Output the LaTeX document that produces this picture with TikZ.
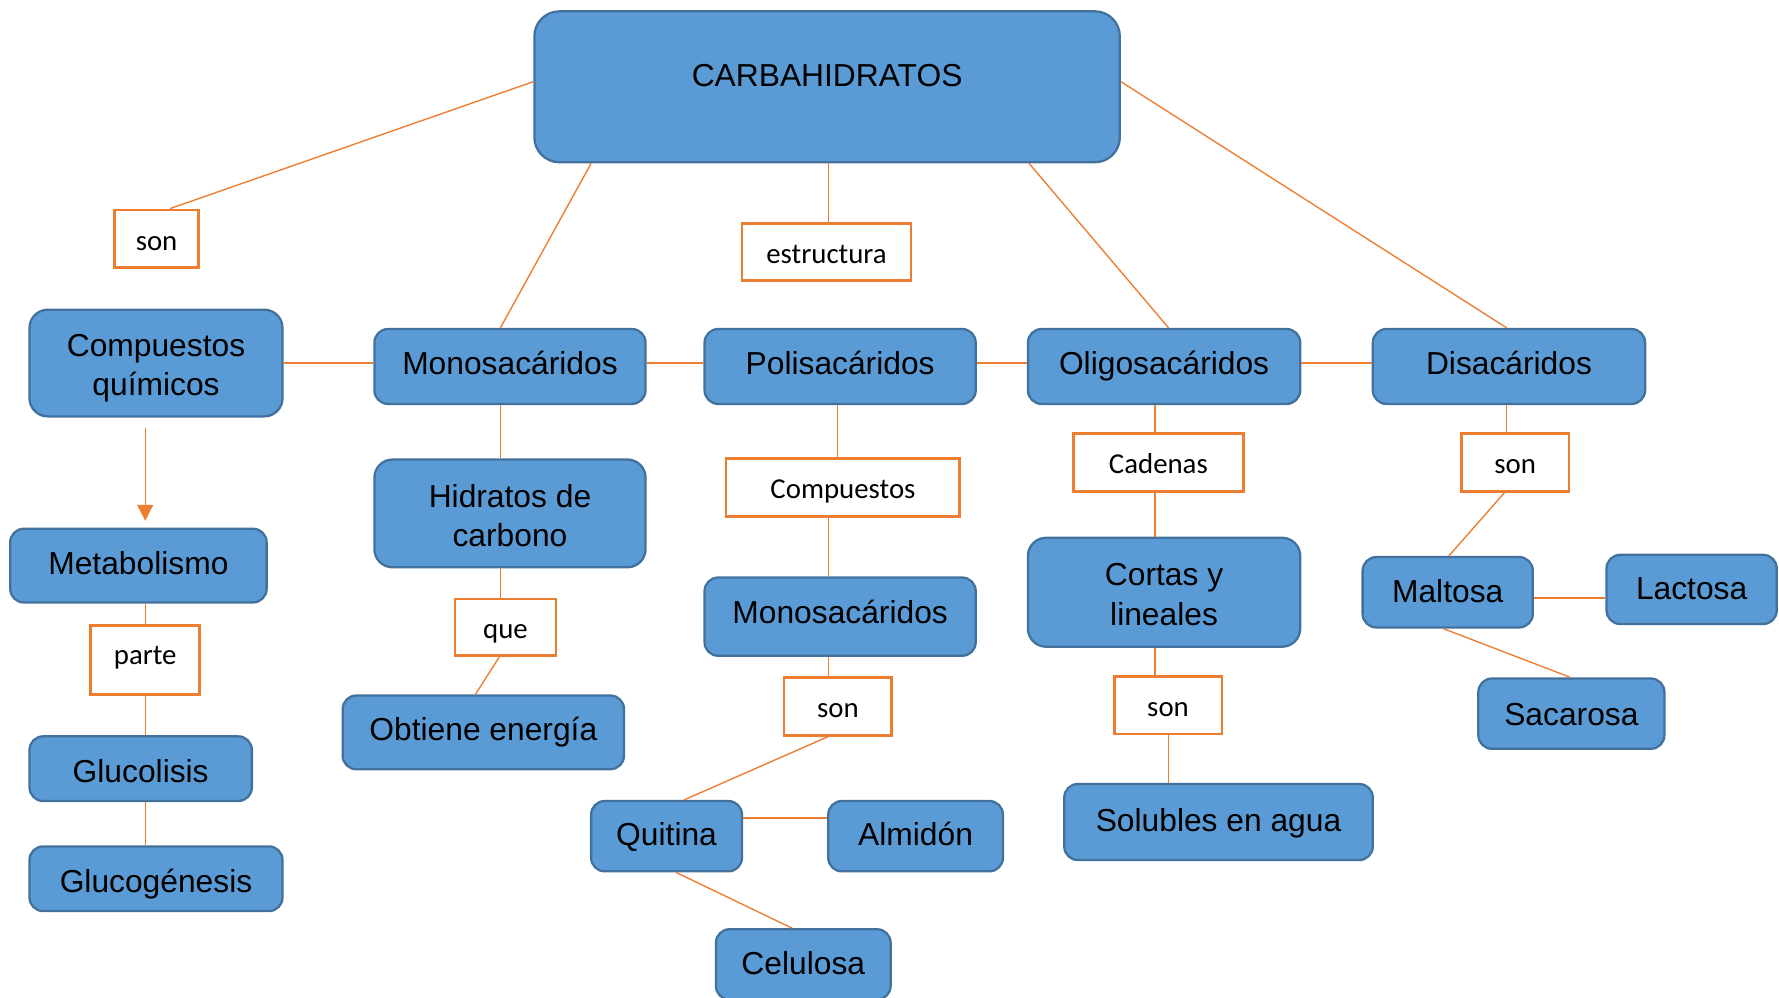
\documentclass[tikz,border=0pt]{standalone}
\usepackage{fontspec}
\setmainfont{Liberation Sans}
\newfontfamily\lblfont{Carlito}
\usetikzlibrary{arrows.meta}
\definecolor{bfill}{HTML}{5B9BD5}
\definecolor{bline}{HTML}{41719C}
\definecolor{orng}{HTML}{ED7D31}
\begin{document}
\begin{tikzpicture}[x=0.5pt,y=-0.5pt,
  bbox/.style={draw=bline, fill=bfill, line width=1pt, rounded corners=6pt, inner sep=0pt, align=center,
    font=\fontsize{14}{17.5}\selectfont, text=black, text height=10.5pt, text depth=3.5pt},
  bbox2/.style={draw=bline, fill=bfill, line width=1pt, rounded corners=8pt, inner sep=0pt},
  mlab/.style={font=\fontsize{14}{17.5}\selectfont, text=black, align=center},
  lbox/.style={draw=orng, fill=white, line width=1.2pt, inner sep=0pt, align=center,
    font=\lblfont\fontsize{12.7}{15}\selectfont, text=black, text height=13pt, text depth=3pt},
  conn/.style={draw=orng, line width=0.6pt}]
\useasboundingbox (0,0) rectangle (1568,879);
\clip (0,0) rectangle (1568,879);
% boxes
\node[bbox2, rounded corners=11pt, minimum width=258pt, minimum height=66.5pt,
  label={[mlab, yshift=4.75pt]center:CARBAHIDRATOS}] (carb) at (729,76.5) {};
\node[lbox, minimum width=37pt, minimum height=25.5pt] (son1) at (138,210.5) {son};
\node[lbox, minimum width=74.5pt, minimum height=25pt] (estr) at (728.5,222) {estructura};
\node[bbox2, minimum width=111.5pt, minimum height=47pt,
  label={[mlab, yshift=-2.25pt]center:Compuestos\\químicos}] (compq) at (137.5,320) {};
\node[bbox, minimum width=119.5pt, minimum height=33pt] (mono1) at (449.5,323) {Monosacáridos};
\node[bbox, minimum width=119.5pt, minimum height=33pt] (poli) at (740.5,323) {Polisacáridos};
\node[bbox, minimum width=120pt, minimum height=33pt] (oligo) at (1026,323) {Oligosacáridos};
\node[bbox, minimum width=120pt, minimum height=33pt] (disac) at (1330,323) {Disacáridos};
\node[bbox, text height=11.5pt, minimum width=113pt, minimum height=32.5pt] (metab) at (122,498.5) {Metabolismo};
\node[lbox, text height=7pt, minimum width=48pt, minimum height=30.5pt] (parte) at (128,581.5) {parte};
\node[bbox, text height=15.5pt, minimum width=98pt, minimum height=28.5pt] (glucol) at (124,677.5) {Glucolisis};
\node[bbox, text height=15.5pt, minimum width=111.5pt, minimum height=28.5pt] (glucog) at (137.5,774.5) {Glucogénesis};
\node[bbox2, minimum width=119.5pt, minimum height=47.5pt,
  label={[mlab, yshift=-1pt]center:Hidratos de\\carbono}] (hidr) at (449.5,452.5) {};
\node[lbox, minimum width=44.5pt, minimum height=25pt] (que) at (445.5,553) {que};
\node[bbox, minimum width=124pt, minimum height=32.5pt] (obt) at (426,645.5) {Obtiene energía};
\node[lbox, minimum width=103pt, minimum height=25.5pt] (compl) at (743,429.5) {Compuestos};
\node[bbox, text height=9.5pt, minimum width=119.5pt, minimum height=34.5pt] (mono2) at (740.5,543.5) {Monosacáridos};
\node[lbox, minimum width=47.5pt, minimum height=25.5pt] (son2) at (738.5,622.5) {son};
\node[bbox, text height=11.5pt, minimum width=66.5pt, minimum height=31pt] (quit) at (587.5,737) {Quitina};
\node[bbox, text height=11.5pt, minimum width=77pt, minimum height=31pt] (almid) at (807,737) {Almidón};
\node[bbox, text height=12.5pt, minimum width=77pt, minimum height=31pt] (celul) at (708,850) {Celulosa};
\node[lbox, minimum width=75pt, minimum height=25.5pt] (cad) at (1021,407.5) {Cadenas};
\node[bbox2, minimum width=120pt, minimum height=48pt,
  label={[mlab, yshift=-1pt]center:Cortas y\\lineales}] (cortas) at (1026,522) {};
\node[lbox, minimum width=47.5pt, minimum height=25.5pt] (son3) at (1029.5,621.5) {son};
\node[bbox, text height=11.5pt, minimum width=136pt, minimum height=33.5pt] (solub) at (1074,724.5) {Solubles en agua};
\node[lbox, minimum width=47.5pt, minimum height=25.5pt] (son4) at (1335.5,407.5) {son};
\node[bbox, text height=12.5pt, minimum width=75pt, minimum height=31pt] (malt) at (1276,522) {Maltosa};
\node[bbox, text height=12.5pt, minimum width=75pt, minimum height=30.5pt] (lact) at (1491,519.5) {Lactosa};
\node[bbox, text height=13.5pt, minimum width=82pt, minimum height=31pt] (sacar) at (1385,629) {Sacarosa};
% connectors
\draw[conn] (carb.west |- 0,72) -- (150,0 |- son1.north);
\draw[conn] (521,0 |- carb.south) -- (441,0 |- mono1.north);
\draw[conn] (730,0 |- carb.south) -- (730,0 |- estr.north);
\draw[conn] (907,0 |- carb.south) -- (1030,0 |- oligo.north);
\draw[conn] (carb.east |- 0,72) -- (1328,0 |- disac.north);
\draw[conn] (compq.east |- 0,320) -- (mono1.west |- 0,320);
\draw[conn] (mono1.east |- 0,320) -- (poli.west |- 0,320);
\draw[conn] (poli.east |- 0,320) -- (oligo.west |- 0,320);
\draw[conn] (oligo.east |- 0,320) -- (disac.west |- 0,320);
\draw[conn, -{Triangle[length=7pt,width=7pt]}, shorten <=4.5pt, shorten >=3pt] (128,0 |- compq.south) -- (128,0 |- metab.north);
\draw[conn] (128,0 |- metab.south) -- (128,0 |- parte.north);
\draw[conn] (128,0 |- parte.south) -- (128,0 |- glucol.north);
\draw[conn] (128,0 |- glucol.south) -- (128,0 |- glucog.north);
\draw[conn] (441,0 |- mono1.south) -- (441,0 |- hidr.north);
\draw[conn] (441,0 |- hidr.south) -- (441,0 |- que.north);
\draw[conn] (440,0 |- que.south) -- (419,0 |- obt.north);
\draw[conn] (738,0 |- poli.south) -- (738,0 |- compl.north);
\draw[conn] (730,0 |- compl.south) -- (730,0 |- mono2.north);
\draw[conn] (730,0 |- mono2.south) -- (730,0 |- son2.north);
\draw[conn] (730,0 |- son2.south) -- (603,0 |- quit.north);
\draw[conn] (quit.east |- 0,721) -- (almid.west |- 0,721);
\draw[conn] (596,0 |- quit.south) -- (698,0 |- celul.north);
\draw[conn] (1018,0 |- oligo.south) -- (1018,0 |- cad.north);
\draw[conn] (1018,0 |- cad.south) -- (1018,0 |- cortas.north);
\draw[conn] (1018,0 |- cortas.south) -- (1018,0 |- son3.north);
\draw[conn] (1030,0 |- son3.south) -- (1030,0 |- solub.north);
\draw[conn] (1328,0 |- disac.south) -- (1328,0 |- son4.north);
\draw[conn] (1326,0 |- son4.south) -- (1277,0 |- malt.north);
\draw[conn] (malt.east |- 0,527) -- (lact.west |- 0,527);
\draw[conn] (1272,0 |- malt.south) -- (1384,0 |- sacar.north);
\end{tikzpicture}
\end{document}
